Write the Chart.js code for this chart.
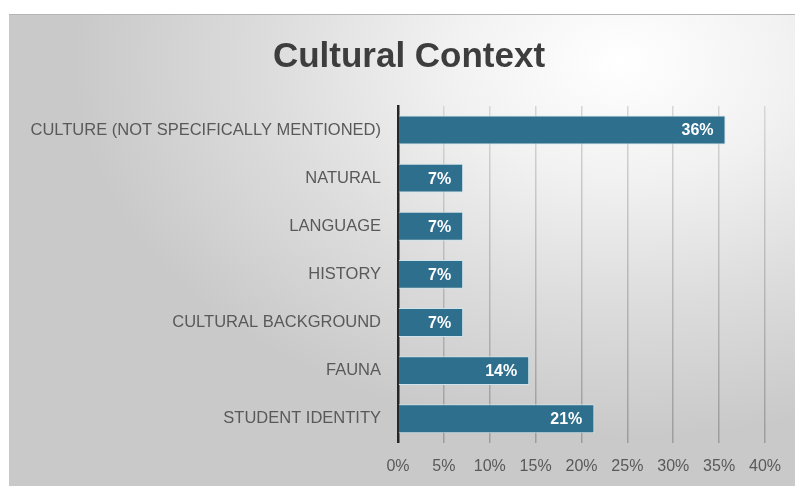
<!DOCTYPE html>
<html>
<head>
<meta charset="utf-8">
<script src="https://cdn.jsdelivr.net/npm/chart.js@4"></script>
<style>
  html, body { margin: 0; padding: 0; background: #ffffff; }
  #wrap {
    position: absolute; left: 9px; top: 14px; width: 786px; height: 472px;
    background: radial-gradient(ellipse 70% 80% at 78% 10%, #ffffff 0%, #f2f2f2 30%, #dcdcdc 65%, #c9c9c9 100%);
    border-top: 1px solid #b5b5b5;
    box-sizing: border-box;
  }
  canvas { display: block; }
</style>
</head>
<body>
<div id="wrap"><canvas id="c" width="786" height="471"></canvas></div>
<script>
const categories = ["CULTURE (NOT SPECIFICALLY MENTIONED)", "NATURAL", "LANGUAGE", "HISTORY", "CULTURAL BACKGROUND", "FAUNA", "STUDENT IDENTITY"];
const values = [35.7, 7.1, 7.1, 7.1, 7.1, 14.3, 21.4];
const tickValues = [0, 5, 10, 15, 20, 25, 30, 35, 40];
const chartTitle = "Cultural Context";

const titlePlugin = {
  id: 'customTitle',
  afterDraw(chart) {
    const ctx = chart.ctx;
    ctx.save();
    ctx.fillStyle = '#3d3d3d';
    ctx.font = 'bold 35px "Liberation Sans", Arial, sans-serif';
    ctx.textAlign = 'center';
    ctx.textBaseline = 'alphabetic';
    ctx.fillText(chartTitle, chart.width / 2 + 7, 52);
    ctx.restore();
  }
};

const labelPlugin = {
  id: 'barLabels',
  afterDatasetsDraw(chart) {
    const ctx = chart.ctx;
    const meta = chart.getDatasetMeta(0);
    ctx.save();
    ctx.fillStyle = '#ffffff';
    ctx.font = 'bold 16px "Liberation Sans", Arial, sans-serif';
    ctx.textAlign = 'right';
    ctx.textBaseline = 'middle';
    meta.data.forEach((bar, i) => {
      ctx.fillText(Math.round(values[i]) + '%', bar.x - 12, bar.y + 1);
    });
    ctx.restore();
  }
};

function gridColor(ctx) {
  if (ctx.tick && ctx.tick.value === 0) return 'rgba(0,0,0,0)';
  const chart = ctx.chart;
  const area = chart.chartArea;
  if (!area) return '#a6a6a6';
  const g = chart.ctx.createLinearGradient(0, area.top, 0, area.bottom);
  g.addColorStop(0, '#d6d6d6');
  g.addColorStop(1, '#9c9c9c');
  return g;
}

new Chart(document.getElementById('c'), {
  type: 'bar',
  data: {
    labels: categories,
    datasets: [{
      data: values,
      backgroundColor: '#2e6f8e',
      borderColor: '#cfe3ec',
      borderWidth: 1,
      borderSkipped: 'start',
      barPercentage: 0.6,
      categoryPercentage: 1.0
    }]
  },
  options: {
    indexAxis: 'y',
    responsive: false,
    animation: false,
    layout: { padding: { left: 0, right: 20, top: 91, bottom: -4 } },
    plugins: {
      legend: { display: false },
      tooltip: { enabled: false },
      title: { display: false }
    },
    scales: {
      x: {
        min: 0, max: 40,
        afterBuildTicks(axis) { axis.ticks = tickValues.map(v => ({ value: v })); },
        ticks: {
          callback: v => v + '%',
          color: '#595959',
          font: { family: '"Liberation Sans", Arial, sans-serif', size: 16 },
          padding: 14
        },
        grid: {
          color: gridColor,
          lineWidth: 1.5,
          drawTicks: false
        },
        border: { display: false }
      },
      y: {
        afterFit(axis) { axis.width = 389; },
        ticks: {
          color: '#595959',
          font: { family: '"Liberation Sans", Arial, sans-serif', size: 16.5 },
          padding: 17
        },
        grid: { display: false, drawTicks: false },
        border: { display: true, color: '#262626', width: 2.5 }
      }
    }
  },
  plugins: [labelPlugin, titlePlugin]
});
</script>
</body>
</html>
